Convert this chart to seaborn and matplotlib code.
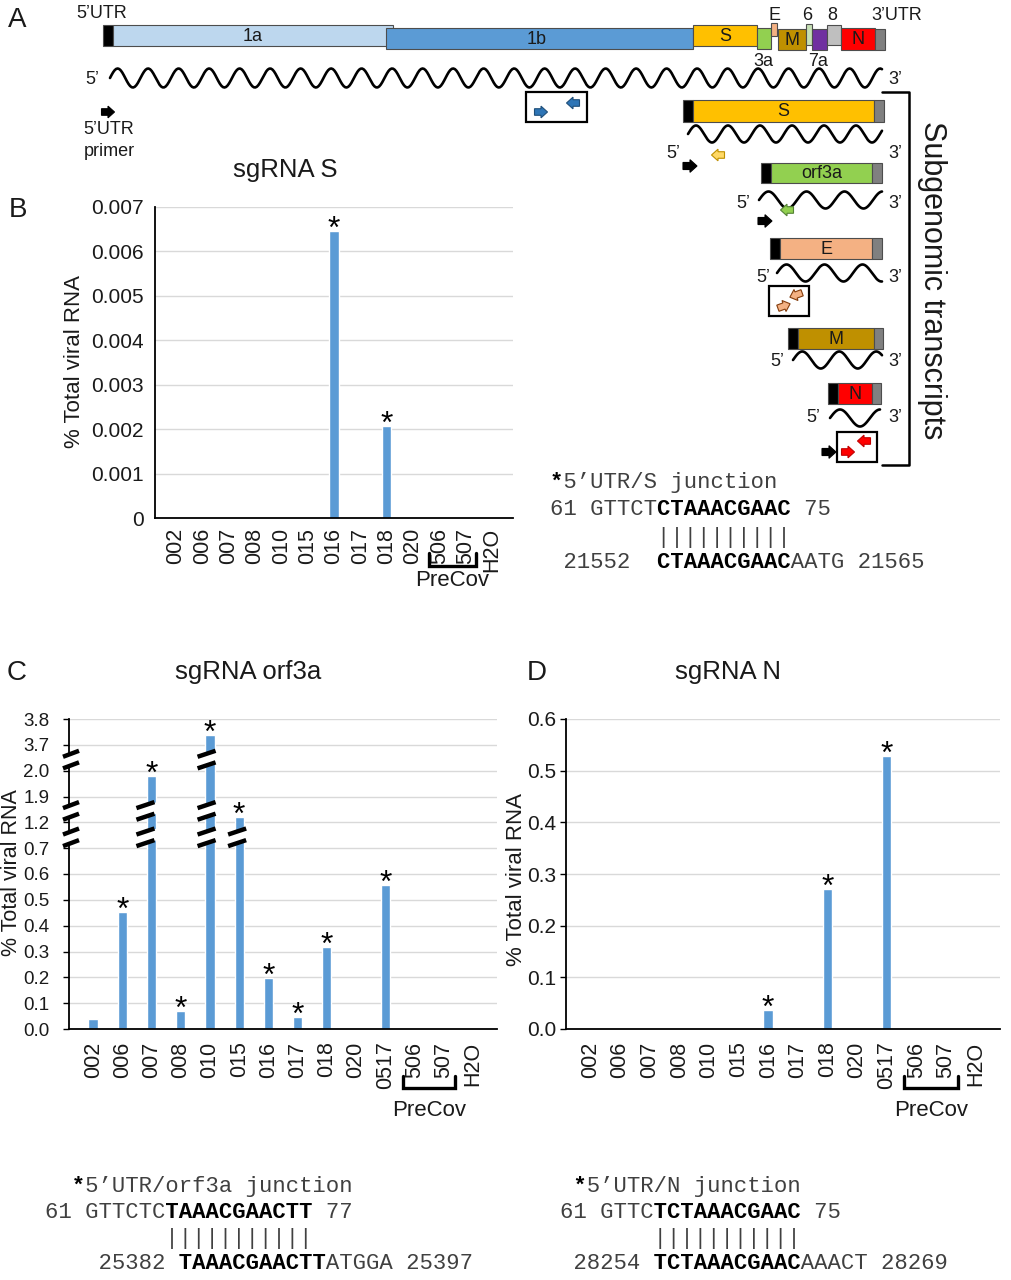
import numpy as np
import pandas as pd
import matplotlib.pyplot as plt
import matplotlib.transforms as mtransforms
from matplotlib.patches import Rectangle, Polygon
import seaborn as sns

sns.set_style('white')
plt.rcParams['font.family'] = ['Liberation Sans', 'DejaVu Sans']
MONO = ['Liberation Mono', 'DejaVu Sans Mono']
TXT = '#1a1a1a'
BAR = '#5b9bd5'

# ---------------- data ----------------
samples_S = ['002', '006', '007', '008', '010', '015', '016', '017', '018', '020', '506', '507', 'H2O']
pct_S = [0, 0, 0, 0, 0, 0, 0.00645, 0, 0.00207, 0, 0, 0, 0]
stars_S = ['016', '018']
yticks_S = [0, 0.001, 0.002, 0.003, 0.004, 0.005, 0.006, 0.007]
ylabels_S = ['0', '0.001', '0.002', '0.003', '0.004', '0.005', '0.006', '0.007']

samples_3a = ['002', '006', '007', '008', '010', '015', '016', '017', '018', '020', '0517', '506', '507', 'H2O']
pct_3a = [0.04, 0.452, 1.98, 0.07, 3.74, 1.35, 0.199, 0.047, 0.318, 0, 0.558, 0, 0, 0]
stars_3a = ['006', '007', '008', '010', '015', '016', '017', '018', '0517']
yticks_3a = [0, 0.1, 0.2, 0.3, 0.4, 0.5, 0.6, 0.7, 1.2, 1.9, 2.0, 3.7, 3.8]
ylabels_3a = ['0.0', '0.1', '0.2', '0.3', '0.4', '0.5', '0.6', '0.7', '1.2', '1.9', '2.0', '3.7', '3.8']
axis_cuts_3a = [0.91, 1.51, 2.73]
bar_cuts_3a = {'007': [0.91, 1.51], '010': [0.91, 1.51, 2.73], '015': [0.91]}

samples_N = ['002', '006', '007', '008', '010', '015', '016', '017', '018', '020', '0517', '506', '507', 'H2O']
pct_N = [0, 0, 0, 0, 0, 0, 0.036, 0, 0.271, 0, 0.528, 0, 0, 0]
stars_N = ['016', '018', '0517']
yticks_N = [0, 0.1, 0.2, 0.3, 0.4, 0.5, 0.6]
ylabels_N = ['0.0', '0.1', '0.2', '0.3', '0.4', '0.5', '0.6']

# junction alignments: (text, bold) segments
junc_S = [[('*', True), ('5’UTR/S junction', False)],
          [('61 GTTCT', False), ('CTAAACGAAC', True), (' 75', False)],
          [('        ||||||||||', False)],
          [(' 21552  ', False), ('CTAAACGAAC', True), ('AATG 21565', False)]]
junc_3a = [[('  *', True), ('5’UTR/orf3a junction', False)],
           [('61 GTTCTC', False), ('TAAACGAACTT', True), (' 77', False)],
           [('         |||||||||||', False)],
           [('    25382 ', False), ('TAAACGAACTT', True), ('ATGGA 25397', False)]]
junc_N = [[(' *', True), ('5’UTR/N junction', False)],
          [('61 GTTC', False), ('TCTAAACGAAC', True), (' 75', False)],
          [('       |||||||||||', False)],
          [(' 28254 ', False), ('TCTAAACGAAC', True), ('AAACT 28269', False)]]

# genome map segments: (label, x0, x1, y0, y1, colour)
genome = [('', 103, 113, 25, 46, 'black'),
          ('1a', 113, 393, 25, 46, '#bdd7ee'),
          ('1b', 386, 693, 28, 49, '#5b9bd5'),
          ('S', 693, 757, 25, 46, '#ffc000'),
          ('', 757, 771, 28, 49, '#92d050'),
          ('', 771, 777, 23, 36, '#f4b183'),
          ('M', 778, 806, 29, 50, '#bf9000'),
          ('', 806, 812, 24, 45, '#c5e0b4'),
          ('', 812, 827, 29, 50, '#7030a0'),
          ('', 827, 841, 25, 45, '#bfbfbf'),
          ('N', 841, 875, 28, 50, '#ff0000'),
          ('', 875, 885, 29, 50, '#808080')]
genome_tags = [('5’UTR', 102, 14), ('E', 774, 15), ('6', 807, 15), ('8', 832, 15),
               ('3’UTR', 897, 15), ('3a', 763, 62), ('7a', 818, 62)]

# subgenomic transcripts: (label, x_black, x_body, x_gray, x_end, y0, y1, colour)
transcripts = [('S', 683, 693, 874, 884, 100, 122, '#ffc000'),
               ('orf3a', 761, 771, 872, 882, 163, 183, '#92d050'),
               ('E', 770, 780, 872, 882, 238, 259, '#f4b183'),
               ('M', 788, 798, 874, 883, 328, 349, '#bf9000'),
               ('N', 828, 838, 872, 881, 383, 404, '#ff0000')]

W, H = 1011, 1280
fig = plt.figure(figsize=(W / 100, H / 100), dpi=100)
fig.patch.set_facecolor('white')

canvas = fig.add_axes([0, 0, 1, 1])
canvas.set_xlim(0, W)
canvas.set_ylim(H, 0)
canvas.axis('off')


def px_axes(left, top, right, bottom):
    return fig.add_axes([left / W, 1 - bottom / H, (right - left) / W, (bottom - top) / H])


def wave(ax, x0, x1, yc, period, amp=8.5, phase=0.0):
    xs = np.linspace(x0, x1, 500)
    ax.plot(xs, yc - amp * np.sin(2 * np.pi * (xs - x0) / period + phase), color='black', lw=1.9)


def block_arrow(ax, x, y, angle, fc, ec='black', size=13):
    L, h = size, size * 0.9
    pts = np.array([[-L / 2, -h * 0.28], [0, -h * 0.28], [0, -h / 2], [L / 2, 0],
                    [0, h / 2], [0, h * 0.28], [-L / 2, h * 0.28]])
    th = np.deg2rad(angle)
    rot = np.array([[np.cos(th), -np.sin(th)], [np.sin(th), np.cos(th)]])
    ax.add_patch(Polygon(pts @ rot.T + [x, y], closed=True, fc=fc, ec=ec, lw=0.8, zorder=5))


def seq_block(ax, x, ys, lines):
    for y, segs in zip(ys, lines):
        plain = ''.join(t if not b else ' ' * len(t) for t, b in segs)
        bold = ''.join(t if b else ' ' * len(t) for t, b in segs)
        ax.text(x, y, plain, family=MONO, fontsize=16, color='#404040', ha='left', va='baseline')
        ax.text(x, y, bold, family=MONO, fontsize=16, color='black', weight='bold', ha='left', va='baseline')


# ---------------- panel A: genome map ----------------
for lab, x0, x1, y0, y1, col in genome:
    canvas.add_patch(Rectangle((x0, y0), x1 - x0, y1 - y0, fc=col, ec='#4d4d4d', lw=0.8))
    if lab:
        cx = (x0 + x1) / 2 if lab not in ('1b',) else 537
        canvas.text(cx, (y0 + y1) / 2 + 1, lab, ha='center', va='center', fontsize=13, color=TXT)
for lab, x, y in genome_tags:
    canvas.text(x, y, lab, ha='center', va='center', fontsize=13, color=TXT)

wave(canvas, 110, 882, 78, 30.5, amp=9.5)
canvas.text(92, 80, '5’', ha='center', va='center', fontsize=13, color=TXT)
canvas.text(895, 80, '3’', ha='center', va='center', fontsize=13, color=TXT)
block_arrow(canvas, 108, 112, 0, 'black')
canvas.text(109, 130, '5’UTR', ha='center', va='center', fontsize=13, color=TXT)
canvas.text(109, 151, 'primer', ha='center', va='center', fontsize=13, color=TXT)

canvas.add_patch(Rectangle((526, 92), 61, 30, fc='none', ec='black', lw=1.6))
block_arrow(canvas, 541, 112, 0, '#2e75b6', ec='#1f4e79', size=13)
block_arrow(canvas, 573, 103, 180, '#2e75b6', ec='#1f4e79', size=13)

for lab, xb, xs, xg, xe, y0, y1, col in transcripts:
    canvas.add_patch(Rectangle((xb, y0), xs - xb, y1 - y0, fc='black', ec='#4d4d4d', lw=0.8))
    canvas.add_patch(Rectangle((xs, y0), xg - xs, y1 - y0, fc=col, ec='#4d4d4d', lw=0.8))
    canvas.add_patch(Rectangle((xg, y0), xe - xg, y1 - y0, fc='#808080', ec='#4d4d4d', lw=0.8))
    canvas.text((xs + xg) / 2, (y0 + y1) / 2 + 1, lab, ha='center', va='center', fontsize=13, color=TXT)

wave(canvas, 688, 882, 134, 32)
wave(canvas, 759, 882, 200, 38)
wave(canvas, 777, 882, 273, 38)
wave(canvas, 793, 882, 360, 37)
wave(canvas, 830, 880, 418, 40)
for y5, x5 in [(153, 673), (203, 743), (278, 763), (362, 777), (418, 813)]:
    canvas.text(x5, y5, '5’', ha='center', va='center', fontsize=13, color=TXT)
    canvas.text(895, y5, '3’', ha='center', va='center', fontsize=13, color=TXT)

block_arrow(canvas, 718, 155, 180, '#ffd966', ec='#bf9000', size=13)
block_arrow(canvas, 690, 166, 0, 'black', size=14)
block_arrow(canvas, 787, 210, 180, '#92d050', ec='#548235', size=13)
block_arrow(canvas, 765, 221, 0, 'black', size=14)
canvas.add_patch(Rectangle((769, 286), 40, 30, fc='none', ec='black', lw=1.6))
block_arrow(canvas, 796, 295, 160, '#f4b183', ec='#843c0c', size=13)
block_arrow(canvas, 784, 306, -20, '#f4b183', ec='#843c0c', size=13)
canvas.add_patch(Rectangle((837, 432), 40, 30, fc='none', ec='black', lw=1.6))
block_arrow(canvas, 864, 441, 180, '#ff0000', ec='#c00000', size=13)
block_arrow(canvas, 848, 452, 0, '#ff0000', ec='#c00000', size=13)
block_arrow(canvas, 829, 452, 0, 'black', size=14)

canvas.plot([882, 909, 909, 882], [92, 92, 465, 465], color='black', lw=1.8)
canvas.text(932, 280, 'Subgenomic transcripts', rotation=-90, ha='center', va='center',
            fontsize=22, color=TXT)

# panel letters and titles
for lab, x, y in [('A', 17, 20), ('B', 18, 210), ('C', 17, 673), ('D', 537, 673)]:
    canvas.text(x, y, lab, ha='center', va='center', fontsize=20, color=TXT)
for lab, x, y in [('sgRNA S', 285, 170), ('sgRNA orf3a', 248, 672), ('sgRNA N', 728, 672)]:
    canvas.text(x, y, lab, ha='center', va='center', fontsize=18.5, color=TXT)
for x, y, fs in [(75, 362, 16), (12, 873, 15.5), (517, 880, 16)]:
    canvas.text(x, y, '% Total viral RNA', rotation=90, ha='center', va='center', fontsize=fs, color=TXT)

seq_block(canvas, 550, [488, 515, 543, 568], junc_S)
seq_block(canvas, 45, [1192, 1218, 1244, 1269], junc_3a)
seq_block(canvas, 560, [1192, 1218, 1244, 1269], junc_N)


# ---------------- bar charts ----------------
def bar_chart(ax, samples, vals, width):
    df = pd.DataFrame({'sample': samples, 'pct': vals})
    sns.barplot(data=df, x='sample', y='pct', order=samples, color=BAR, saturation=1,
                width=width, errorbar=None, ax=ax)
    ax.set_xlabel('')
    ax.set_ylabel('')


def style_chart(ax, ticks, labels, tick_len, ypad, ysize, xpad):
    ax.set_yticks(ticks, labels)
    ax.yaxis.grid(True, color='#d9d9d9', lw=1.0)
    ax.set_axisbelow(True)
    ax.set_facecolor('none')
    for s in ['top', 'right']:
        ax.spines[s].set_visible(False)
    for s in ['left', 'bottom']:
        ax.spines[s].set_color('black')
        ax.spines[s].set_linewidth(1.3)
    ax.tick_params(axis='y', left=tick_len > 0, length=tick_len, width=1, color='black',
                   direction='out', pad=ypad, labelsize=ysize, labelcolor=TXT)
    ax.tick_params(axis='x', bottom=False, length=0, pad=xpad, labelsize=15.5,
                   labelrotation=90, labelcolor=TXT)


def add_stars(ax, samples, vals, stars):
    for s in stars:
        i = samples.index(s)
        ax.annotate('*', (i, vals[i]), xytext=(0, -5), textcoords='offset points',
                    ha='center', va='baseline', fontsize=23, color='black')


def precov(ax, samples, top_px, bot_px, text_px, h_px):
    tr = mtransforms.blended_transform_factory(ax.transData, ax.transAxes)
    i0 = samples.index('506') - 0.4
    i1 = samples.index('507') + 0.4
    yt, yb = -top_px / h_px, -bot_px / h_px
    ax.plot([i0, i0, i1, i1], [yt, yb, yb, yt], color='black', lw=2.4, transform=tr,
            clip_on=False, solid_joinstyle='miter')
    ax.text((i0 + i1) / 2, -text_px / h_px, 'PreCov', transform=tr, ha='center', va='center',
            fontsize=16, color=TXT)


# B
axB = px_axes(155, 207, 513, 518)
bar_chart(axB, samples_S, pct_S, 0.36)
axB.set_ylim(0, 0.007)
style_chart(axB, yticks_S, ylabels_S, 0, 8, 15, 7)
add_stars(axB, samples_S, pct_S, stars_S)
precov(axB, samples_S, 35, 48, 62, 311)

# C (broken axis through a piecewise-linear function scale)
_pos = np.arange(len(yticks_3a), dtype=float)


def to_pos(v):
    v = np.asarray(v, dtype=float)
    return np.where(v < 0, v * 10, np.where(v > 3.8, 12 + (v - 3.8) * 10,
                                            np.interp(v, yticks_3a, _pos)))


def from_pos(p):
    p = np.asarray(p, dtype=float)
    return np.where(p < 0, p / 10, np.where(p > 12, 3.8 + (p - 12) / 10,
                                            np.interp(p, _pos, yticks_3a)))


axC = px_axes(69, 719, 497, 1029)
bar_chart(axC, samples_3a, pct_3a, 0.32)
axC.set_yscale('function', functions=(to_pos, from_pos))
axC.set_ylim(0, 3.8)
style_chart(axC, yticks_3a, ylabels_3a, 4, 10, 13.5, 9)
add_stars(axC, samples_3a, pct_3a, stars_3a)
precov(axC, samples_3a, 47, 59, 81, 310)

# D
axD = px_axes(566, 719, 1000, 1029)
bar_chart(axD, samples_N, pct_N, 0.32)
axD.set_ylim(0, 0.6)
style_chart(axD, yticks_N, ylabels_N, 4, 3, 15, 9)
add_stars(axD, samples_N, pct_N, stars_N)
precov(axD, samples_N, 47, 59, 81, 310)

# break marks on the orf3a panel, drawn on an overlay in pixel space
top = fig.add_axes([0, 0, 1, 1], zorder=10)
top.set_xlim(0, W)
top.set_ylim(H, 0)
top.axis('off')


def cut_mark(cx, cy, half):
    s, g = 3.0, 5.8
    top.add_patch(Polygon([[cx - half - 3, cy - g + s], [cx + half + 3, cy - g - s],
                           [cx + half + 3, cy + g - s], [cx - half - 3, cy + g + s]],
                          closed=True, fc='white', ec='none'))
    for off in (-g, g):
        top.plot([cx - half, cx + half], [cy + off + s, cy + off - s], color='black', lw=3.2,
                 solid_capstyle='butt')


x_axis_px = axC.transAxes.transform((0, 0))[0]
for v in axis_cuts_3a:
    cy = H - axC.transData.transform((0, v))[1]
    cut_mark(x_axis_px + 2, cy, 8)
for s, cuts in bar_cuts_3a.items():
    i = samples_3a.index(s)
    for v in cuts:
        cx, cyd = axC.transData.transform((i, v))
        cut_mark(cx, H - cyd, 9)

fig.savefig('out.png', dpi=100)
